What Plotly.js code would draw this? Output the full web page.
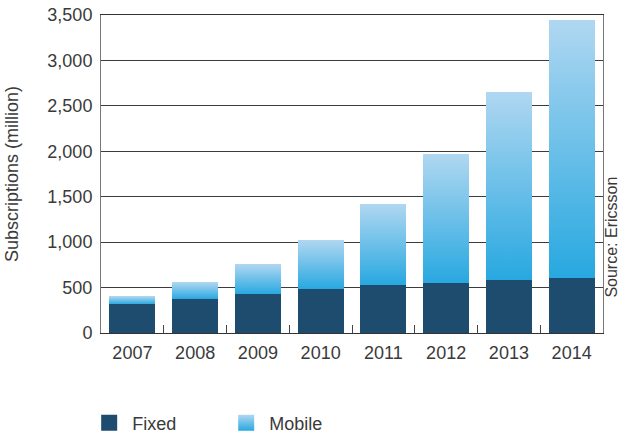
<!DOCTYPE html>
<html>
<head>
<meta charset="utf-8">
<script src="https://cdn.plot.ly/plotly-3.0.1.min.js"></script>
<style>html,body{margin:0;padding:0;background:#fff;}#chart{width:620px;height:434px;}</style>
</head>
<body>
<div id="chart"></div>
<script>
const years = ['2007','2008','2009','2010','2011','2012','2013','2014'];
const fixedSubs = [316, 371, 426, 481, 525, 547, 580, 606];
const mobileSubs = [88, 187, 331, 540, 892, 1421, 2071, 2838];
const yTicks = [0, 500, 1000, 1500, 2000, 2500, 3000, 3500];

const fontFam = 'Liberation Sans, Arial, sans-serif';
const txtCol = '#3a3a3a';

const data = [
  {type:'bar', name:'Fixed', x:years, y:fixedSubs, marker:{color:'#1e4c6f', line:{width:0}}},
  {type:'bar', name:'Mobile', x:years, y:mobileSubs, marker:{color:'#5ab6e6', line:{width:0}}}
];

const layout = {
  width:620, height:434,
  margin:{l:101, r:17, t:15, b:101, autoexpand:false},
  paper_bgcolor:'#fff', plot_bgcolor:'#fff',
  barmode:'stack', bargap:0.27,
  font:{family:fontFam, size:18, color:txtCol},
  showlegend:true,
  legend:{orientation:'h', xref:'container', yref:'container', x:0.139, xanchor:'left', y:0.025, yanchor:'middle',
          traceorder:'normal', itemwidth:36, entrywidth:86, entrywidthmode:'pixels',
          font:{family:fontFam, size:18, color:txtCol}},
  xaxis:{type:'category', showgrid:false, showline:true, linecolor:'#333', linewidth:1, mirror:true,
         ticks:'inside', tickson:'boundaries', ticklen:8, tickcolor:'#444', tickwidth:1,
         ticklabelstandoff:3,
         tickfont:{size:18, color:txtCol}},
  yaxis:{range:[0,3500], tickvals:yTicks, tickformat:',d', showgrid:true, gridcolor:'#3c3c3c', gridwidth:1,
         showline:true, linecolor:'#777', linewidth:1, mirror:true, zeroline:false, ticks:'', ticklen:0,
         ticklabelstandoff:4,
         tickfont:{size:18, color:txtCol},
         title:{text:'Subscriptions (million)', font:{size:18, color:txtCol}, standoff:24}},
  annotations:[{text:'Source: Ericsson', xref:'paper', yref:'paper', x:1, xanchor:'center', xshift:9,
                y:0.30, yanchor:'middle', textangle:-90, showarrow:false,
                font:{family:fontFam, size:16, color:txtCol}}]
};

const gd = document.getElementById('chart');
Plotly.newPlot(gd, data, layout, {staticPlot:true}).then(function(){
  const ns = 'http://www.w3.org/2000/svg';
  const svg = gd.querySelector('svg.main-svg');
  let defs = svg.querySelector('defs');
  if(!defs){defs = document.createElementNS(ns,'defs'); svg.insertBefore(defs, svg.firstChild);}
  const g = document.createElementNS(ns,'linearGradient');
  g.setAttribute('id','mobGrad');
  g.setAttribute('x1','0'); g.setAttribute('y1','1'); g.setAttribute('x2','0'); g.setAttribute('y2','0');
  [['0','#27a8e0'],['1','#b0d7f1']].forEach(function(s){
    const st = document.createElementNS(ns,'stop');
    st.setAttribute('offset', s[0]); st.setAttribute('stop-color', s[1]);
    g.appendChild(st);
  });
  defs.appendChild(g);
  const traces = gd.querySelectorAll('.barlayer .trace');
  if(traces[1]) traces[1].querySelectorAll('path').forEach(function(p){p.style.fill='url(#mobGrad)';});
  const legTr = gd.querySelectorAll('.legend .traces');
  legTr.forEach(function(t, i){
    const p = t.querySelector('.legendpoints path');
    if(p){
      p.setAttribute('d','M8,8H-8V-8H8Z');
      if(i===1) p.style.fill='url(#mobGrad)';
    }
  });
});
</script>
</body>
</html>
